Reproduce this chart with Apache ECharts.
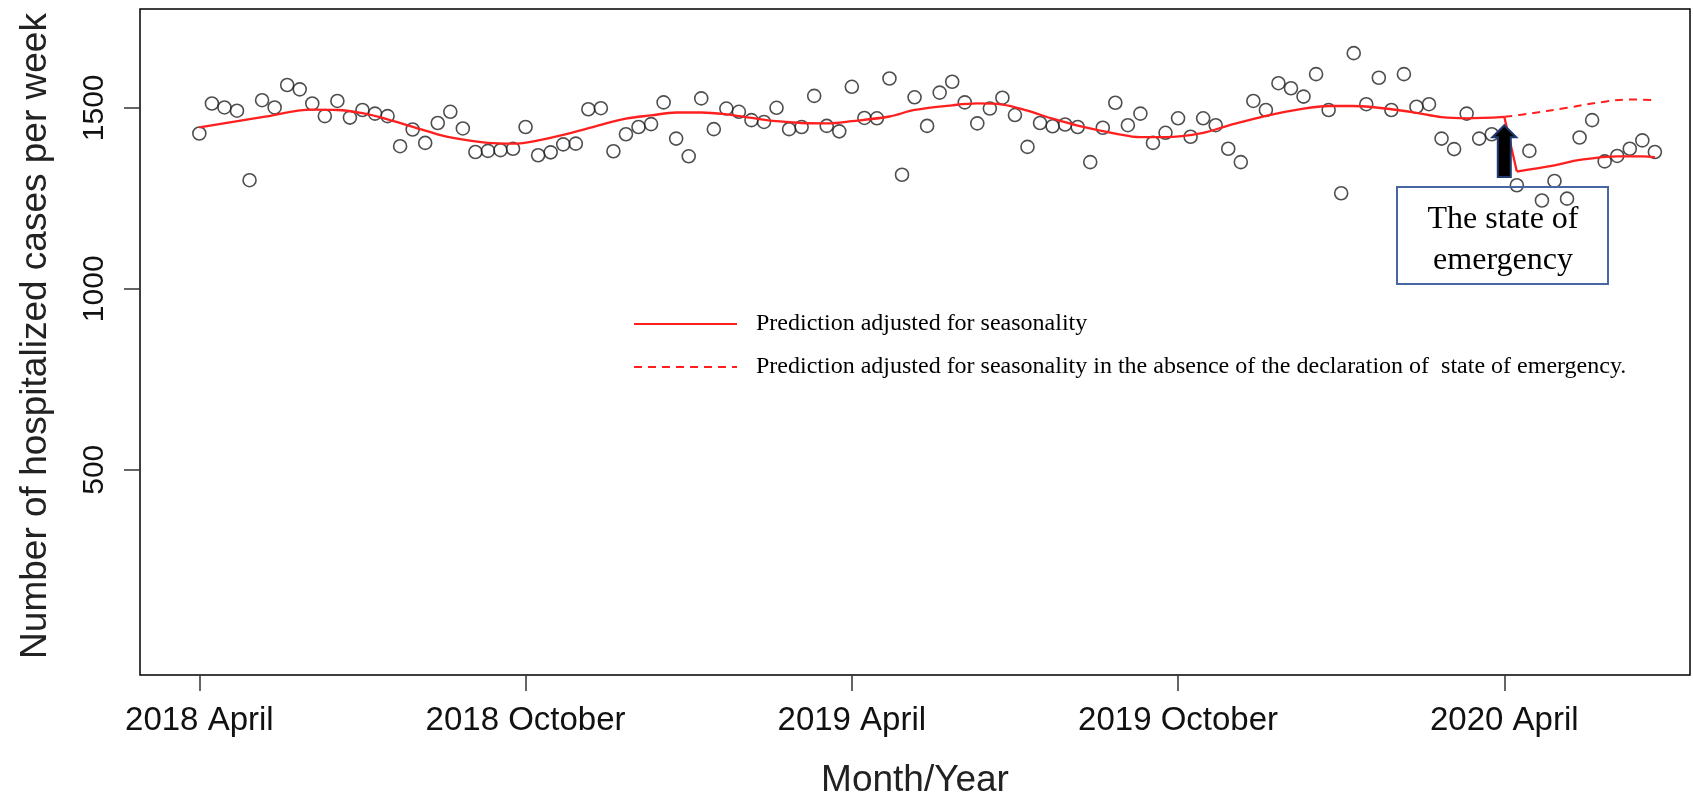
<!DOCTYPE html>
<html><head><meta charset="utf-8">
<script src="https://cdn.jsdelivr.net/npm/echarts@6/dist/echarts.min.js"></script>
<style>html,body{margin:0;padding:0;background:#fff}#c{width:1693px;height:796px}</style>
</head><body><div id="c"></div>
<script>
// observed weekly cases (week index from 2018 April)
const weeks = [0,1,2,3,4,5,6,7,8,9,10,11,12,13,14,15,16,17,18,19,20,21,22,23,24,25,26,27,28,29,
  30,31,32,33,34,35,36,37,38,39,40,41,42,43,44,45,46,47,48,49,50,51,52,53,54,55,56,57,58,59,
  60,61,62,63,64,65,66,67,68,69,70,71,72,73,74,75,76,77,78,79,80,81,82,83,84,85,86,87,88,89,
  90,91,92,93,94,95,96,97,98,99,100,101,102,103,105,106,107,108,109,110,111,112,113,114,115,116];
const cases = [1429,1512,1501,1492,1300,1521,1501,1563,1551,1512,1477,1519,1473,1494,1484,1477,1394,1440,1403,1458,
  1489,1443,1378,1381,1383,1387,1447,1369,1377,1399,1401,1496,1499,1380,1427,1447,1455,1515,1415,1366,
  1526,1441,1498,1489,1466,1461,1500,1441,1447,1533,1450,1435,1558,1472,1471,1581,1315,1529,1450,1542,
  1572,1515,1457,1498,1528,1480,1392,1458,1449,1454,1447,1350,1445,1514,1452,1484,1403,1431,1471,1420,
  1471,1452,1387,1350,1519,1494,1568,1554,1531,1593,1494,1264,1651,1510,1583,1494,1593,1503,1510,1415,
  1386,1484,1415,1427,1286,1381,1244,1298,1249,1418,1466,1352,1367,1387,1410,1378];
// seasonal prediction before the declaration
const fitWeeks = [0,5,9,11,13,15,18,20,23,25,27,30,32,34,36,38,40,42,44,46,48,50,52,55,57,60,62,64,66,68,70,73,75,77,80,82,85,88,90,92,95,97,99,101,104];
const fitValues = [1446,1474,1495,1494,1485,1468,1437,1418,1403,1401,1410,1434,1453,1470,1479,1487,1487,1482,1472,1463,1458,1457,1463,1476,1494,1507,1512,1509,1492,1470,1451,1429,1419,1419,1431,1451,1478,1498,1505,1505,1496,1486,1474,1471,1475];
// seasonal prediction after the declaration
const postWeeks = [105,108,110,113,115,116];
const postValues = [1324,1341,1356,1366,1366,1364];
// counterfactual prediction (no declaration)
const cfWeeks = [104,106,109,112,114,116];
const cfValues = [1475,1484,1500,1517,1523,1521];
const tickWeeks = [0,26,52,78,104];
const tickLabels = ['2018 April','2018 October','2019 April','2019 October','2020 April'];
const yTicks = [500,1000,1500];
const nameSolid = 'Prediction adjusted for seasonality';
const nameDash = 'Prediction adjusted for seasonality in the absence of the declaration of  state of emergency.';

const zip = (xs, ys) => xs.map((x, i) => [x, ys[i]]);
const chart = echarts.init(document.getElementById('c'));
const red = '#ff1f1f';
const sans = 'Liberation Sans, Arial, sans-serif';
const serif = 'Liberation Serif, Times New Roman, serif';
chart.setOption({
  animation: false,
  backgroundColor: '#fff',
  grid: {left: 140, right: 3, top: 9, bottom: 121, show: true, borderColor: '#000', borderWidth: 1.5,
    backgroundColor: 'transparent', outerBoundsMode: 'none', containLabel: false},
  legend: {
    orient: 'vertical', left: 633, top: 312, padding: 0, itemWidth: 103, itemHeight: 14, itemGap: 19,
    data: [nameSolid, nameDash],
    itemStyle: {opacity: 0},
    textStyle: {fontFamily: serif, fontSize: 24, color: '#000', lineHeight: 22, padding: [0, 0, 0, 14]}
  },
  xAxis: {
    type: 'value', min: -4.73, max: 118.8,
    axisLine: {show: false, onZero: false}, splitLine: {show: false},
    axisTick: {show: true, customValues: tickWeeks, length: 16, lineStyle: {color: '#333', width: 1.5}},
    axisLabel: {customValues: tickWeeks, formatter: v => tickLabels[tickWeeks.indexOf(v)], fontFamily: sans, fontSize: 33, color: '#111', margin: 29},
    name: 'Month/Year', nameLocation: 'middle', nameGap: 87,
    nameTextStyle: {fontFamily: sans, fontSize: 37, color: '#222'}
  },
  yAxis: {
    type: 'value', min: -67, max: 1773,
    axisLine: {show: false, onZero: false}, splitLine: {show: false},
    axisTick: {show: true, customValues: yTicks, length: 16, lineStyle: {color: '#333', width: 1.5}},
    axisLabel: {customValues: yTicks, rotate: 90, formatter: v => String(v), fontFamily: sans, fontSize: 30, color: '#111', margin: 30},
    name: 'Number of hospitalized cases per week', nameLocation: 'middle', nameGap: 86,
    nameTextStyle: {fontFamily: sans, fontSize: 37, color: '#222', padding: [0, 0, 0, 12]}
  },
  series: [
    {type: 'scatter', name: 'observed', data: zip(weeks, cases), symbol: 'circle', symbolSize: 13,
      itemStyle: {color: 'rgba(0,0,0,0)', borderColor: '#222', borderWidth: 1.6}, z: 2},
    {type: 'line', name: nameSolid, data: zip(fitWeeks, fitValues), smooth: 0.35, symbol: 'none',
      lineStyle: {color: red, width: 2.3}, itemStyle: {color: red}, z: 3},
    {type: 'line', name: nameSolid, data: [[fitWeeks[fitWeeks.length - 1], fitValues[fitValues.length - 1]], [postWeeks[0], postValues[0]]],
      symbol: 'none', lineStyle: {color: red, width: 2.3}, itemStyle: {color: red}, z: 3},
    {type: 'line', name: nameSolid, data: zip(postWeeks, postValues), smooth: 0.35, symbol: 'none',
      lineStyle: {color: red, width: 2.3}, itemStyle: {color: red}, z: 3},
    {type: 'line', name: nameDash, data: zip(cfWeeks, cfValues), smooth: 0.35, symbol: 'none',
      lineStyle: {color: red, width: 2, type: [8, 6]}, itemStyle: {color: red}, z: 3}
  ]
});

// annotation: arrow at the declaration week and label box
const tip = chart.convertToPixel({gridIndex: 0}, [104, 1452]);
const base = chart.convertToPixel({gridIndex: 0}, [104, 1309]);
const ax = tip[0], ty = tip[1], by = base[1];
chart.setOption({
  graphic: [
    {type: 'polygon', z: 10, shape: {points: [[ax, ty], [ax + 12, ty + 12], [ax + 6.5, ty + 12], [ax + 6.5, by], [ax - 6.5, by], [ax - 6.5, ty + 12], [ax - 12, ty + 12]]},
      style: {fill: '#000', stroke: '#1f3a6e', lineWidth: 2}},
    {type: 'rect', z: 10, shape: {x: 1397, y: 187, width: 211, height: 97},
      style: {fill: 'none', stroke: '#4766a3', lineWidth: 2}},
    {type: 'text', z: 11, x: 1503, y: 240,
      style: {text: 'The state of\nemergency', font: '32px ' + serif, fill: '#000', align: 'center', verticalAlign: 'middle', lineHeight: 41}}
  ]
});
</script></body></html>
